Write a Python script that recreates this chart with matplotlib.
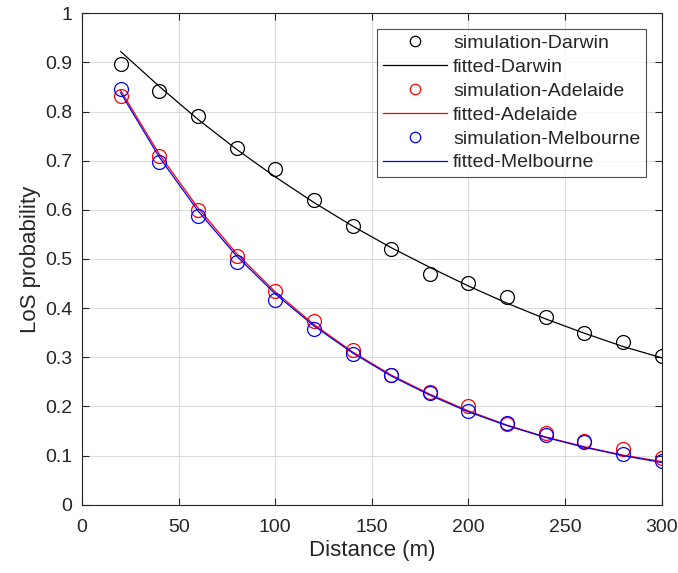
import numpy as np
import matplotlib
matplotlib.use("Agg")
from matplotlib import pyplot as plt

plt.rcParams['font.family'] = ['Liberation Sans', 'DejaVu Sans']

distance = [20, 40, 60, 80, 100, 120, 140, 160, 180, 200, 220, 240, 260, 280, 300]

sim_darwin = [0.897, 0.842, 0.790, 0.725, 0.683, 0.620, 0.568, 0.520, 0.470,
              0.452, 0.422, 0.383, 0.350, 0.331, 0.302]
fit_darwin = [0.922, 0.851, 0.784, 0.723, 0.667, 0.615, 0.567, 0.523, 0.483,
              0.445, 0.410, 0.378, 0.349, 0.322, 0.299]

sim_adelaide = [0.832, 0.710, 0.600, 0.507, 0.435, 0.373, 0.315, 0.265, 0.230,
                0.200, 0.165, 0.147, 0.130, 0.113, 0.095]
fit_adelaide = [0.843, 0.713, 0.604, 0.511, 0.433, 0.367, 0.311, 0.264, 0.225,
                0.191, 0.162, 0.138, 0.118, 0.101, 0.088]

sim_melbourne = [0.845, 0.698, 0.588, 0.493, 0.417, 0.358, 0.306, 0.265, 0.228,
                 0.190, 0.166, 0.143, 0.127, 0.104, 0.090]
fit_melbourne = [0.838, 0.707, 0.598, 0.506, 0.429, 0.364, 0.309, 0.262, 0.223,
                 0.189, 0.161, 0.137, 0.117, 0.100, 0.086]

txt = '#262626'

fig = plt.figure(figsize=(6.78, 5.73), dpi=100)
ax = fig.add_axes([0.121, 0.119, 0.855, 0.858])

ms = 10
ax.plot(distance, sim_darwin, 'o', mfc='none', mec='black', ms=ms, mew=0.9, label='simulation-Darwin')
ax.plot(distance, fit_darwin, '-', color='black', lw=0.9, label='fitted-Darwin')
ax.plot(distance, sim_adelaide, 'o', mfc='none', mec='red', ms=ms, mew=0.9, label='simulation-Adelaide')
ax.plot(distance, fit_adelaide, '-', color='red', lw=0.9, label='fitted-Adelaide')
ax.plot(distance, sim_melbourne, 'o', mfc='none', mec='blue', ms=ms, mew=0.9, label='simulation-Melbourne')
ax.plot(distance, fit_melbourne, '-', color='blue', lw=0.9, label='fitted-Melbourne')

ax.set_xlim(0, 300)
ax.set_ylim(0, 1)
ax.set_xticks(np.arange(0, 301, 50))
ax.set_yticks(np.arange(0, 1.01, 0.1))
ax.set_yticklabels(['0', '0.1', '0.2', '0.3', '0.4', '0.5', '0.6', '0.7', '0.8', '0.9', '1'])
ax.grid(True, color='#dcdcdc', lw=0.8)
ax.set_axisbelow(True)
ax.tick_params(direction='in', top=True, right=True, length=5, width=0.8,
               colors=txt, labelsize=14)
ax.tick_params(axis='x', pad=10)
ax.tick_params(axis='y', pad=7)
for s in ax.spines.values():
    s.set_color(txt)
    s.set_linewidth(0.8)

ax.set_xlabel('Distance (m)', fontsize=16, color=txt, labelpad=3)
ax.set_ylabel('LoS probability', fontsize=16, color=txt, labelpad=3)

leg = ax.legend(loc='upper right', fontsize=14, frameon=True, fancybox=False,
                edgecolor=txt, handlelength=3.3, handletextpad=0.3,
                labelspacing=0.32, borderpad=0.3, borderaxespad=0.8,
                markerscale=0.75)
leg.get_frame().set_linewidth(0.8)
for t in leg.get_texts():
    t.set_color(txt)

fig.savefig('out.png', dpi=100)
